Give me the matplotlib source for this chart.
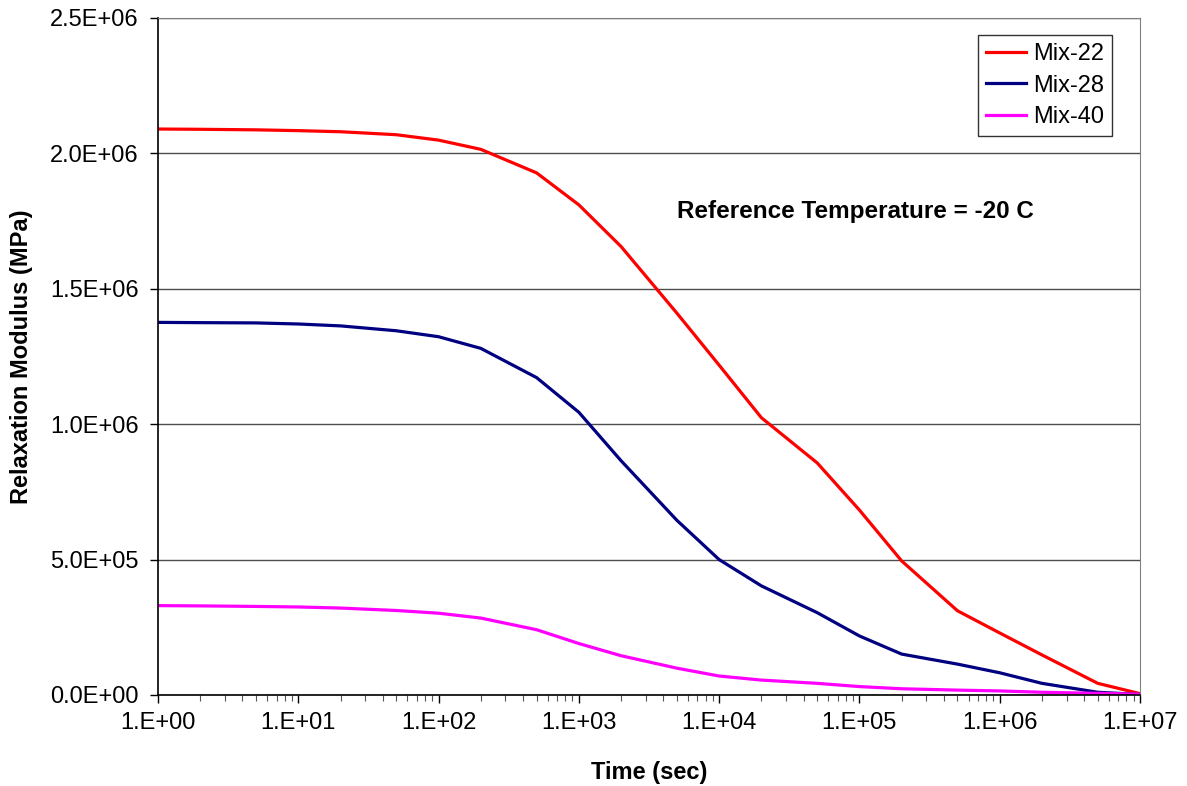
import matplotlib.pyplot as plt
import numpy as np
from matplotlib.ticker import FuncFormatter, LogLocator, MultipleLocator

plt.rcParams['font.family'] = ['Liberation Sans', 'DejaVu Sans']

# tiempos (s) y módulos
time_s = [1, 2, 5, 1e1, 2e1, 5e1, 1e2, 2e2, 5e2, 1e3, 2e3, 5e3,
          1e4, 2e4, 5e4, 1e5, 2e5, 5e5, 1e6, 2e6, 5e6, 1e7]
mix22 = [2.090e6, 2.089e6, 2.087e6, 2.084e6, 2.080e6, 2.069e6, 2.049e6, 2.015e6,
         1.928e6, 1.810e6, 1.656e6, 1.410e6, 1.218e6, 1.024e6, 8.57e5, 6.83e5,
         4.95e5, 3.11e5, 2.29e5, 1.48e5, 4.3e4, 5e3]
mix28 = [1.376e6, 1.375e6, 1.374e6, 1.370e6, 1.363e6, 1.345e6, 1.323e6, 1.280e6,
         1.172e6, 1.044e6, 8.65e5, 6.45e5, 5.0e5, 4.03e5, 3.04e5, 2.18e5,
         1.51e5, 1.14e5, 8.2e4, 4.3e4, 1.0e4, 2e3]
mix40 = [3.30e5, 3.29e5, 3.27e5, 3.25e5, 3.21e5, 3.12e5, 3.02e5, 2.84e5,
         2.41e5, 1.90e5, 1.45e5, 9.9e4, 7.0e4, 5.5e4, 4.3e4, 3.1e4,
         2.3e4, 1.8e4, 1.5e4, 1.0e4, 6e3, 3e3]

series = [("Mix-22", mix22, "#FF0000"),
          ("Mix-28", mix28, "#000080"),
          ("Mix-40", mix40, "#FF00FF")]


def sci_fmt(v, pos):
    if v <= 0:
        return "0.0E+00"
    exp = int(np.floor(np.log10(v)))
    return "%.1fE+%02d" % (v / 10 ** exp, exp)


fig = plt.figure(figsize=(11.87, 7.86), dpi=100)
ax = fig.add_axes([0.1331, 0.1158, 0.8273, 0.8613])

for name, vals, color in series:
    ax.plot(time_s, vals, color=color, linewidth=2.3, label=name)

ax.set_xscale('log')
ax.set_xlim(1, 1e7)
ax.set_ylim(0, 2.5e6)

ax.xaxis.set_major_locator(LogLocator(base=10, numticks=20))
ax.xaxis.set_minor_locator(LogLocator(base=10, subs=np.arange(2, 10), numticks=20))
ax.xaxis.set_major_formatter(FuncFormatter(lambda v, p: "1.E+%02d" % round(np.log10(v))))
ax.yaxis.set_major_locator(MultipleLocator(5e5))
ax.yaxis.set_major_formatter(FuncFormatter(sci_fmt))

ax.tick_params(axis='both', which='major', labelsize=17, direction='out', length=6, width=1)
ax.tick_params(axis='y', which='major', pad=8)
ax.tick_params(axis='x', which='major', pad=6)
ax.tick_params(axis='x', which='minor', direction='out', length=4, width=0.8, colors='#555555')

ax.yaxis.grid(True, color='#4d4d4d', linewidth=1)
ax.set_axisbelow(True)
for side in ['top', 'right']:
    ax.spines[side].set_color('#808080')
ax.spines['left'].set_linewidth(1.2)
ax.spines['bottom'].set_linewidth(1.2)

ax.set_xlabel("Time (sec)", fontsize=17, fontweight='bold', labelpad=20)
ax.set_ylabel("Relaxation Modulus (MPa)", fontsize=17, fontweight='bold', labelpad=12)

ax.text(5000, 1.784e6, "Reference Temperature = -20 C", fontsize=17.5,
        fontweight='bold', ha='left', va='center')

leg = ax.legend(loc='upper right', bbox_to_anchor=(0.972, 0.975), fontsize=17,
                frameon=True, fancybox=False, edgecolor='black',
                handlelength=1.7, handletextpad=0.3, borderaxespad=0,
                labelspacing=0.4, borderpad=0.35)
leg.get_frame().set_linewidth(1)

plt.savefig("out.png", dpi=100)
plt.close()
